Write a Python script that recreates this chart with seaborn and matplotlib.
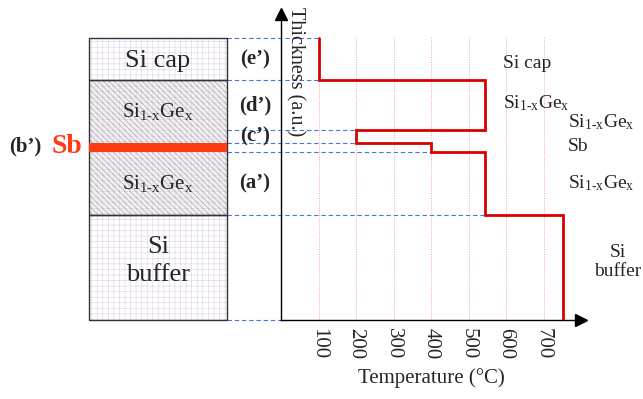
import matplotlib
matplotlib.use("Agg")
import matplotlib.pyplot as plt
import seaborn as sns
import pandas as pd
from matplotlib.patches import Rectangle

# ---------------- data ----------------
layer_labels = ["(e\u2019)", "(d\u2019)", "(c\u2019)", "(b\u2019)", "(a\u2019)", ""]
layer_bounds = [282, 240, 190, 177, 168, 105, 0]      # thickness (a.u.), top -> bottom
growth_temps = [100, 545, 200, 400, 545, 752]          # growth temperature (°C) per layer
temp_ticks = [100, 200, 300, 400, 500, 600, 700]
sige = "Si$_{\\mathrm{1\\text{-}x}}$Ge$_{\\mathrm{x}}$"
right_labels = ["Si cap", sige, sige, "Sb", sige]

# ---------------- style ----------------
sns.set_theme(style="white")
plt.rcParams["font.family"] = ["Liberation Serif", "DejaVu Serif"]
plt.rcParams["mathtext.fontset"] = "custom"
plt.rcParams["mathtext.rm"] = "Liberation Serif"
plt.rcParams["mathtext.it"] = "Liberation Serif:italic"
plt.rcParams["hatch.linewidth"] = 0.45

W, H = 643, 399
fig = plt.figure(figsize=(W / 100, H / 100), dpi=100)
ax = fig.add_axes([281 / W, (H - 320) / H, 300 / W, 306 / H])
ax.set_xlim(0, 800)
ax.set_ylim(0, 306)

# step profile
xs, ys = [], []
for i, t in enumerate(growth_temps):
    xs += [t, t]
    ys += [layer_bounds[i], layer_bounds[i + 1]]
df = pd.DataFrame({"T": xs, "h": ys})

# dotted vertical guides
ax.vlines(temp_ticks, 0, 283, colors="#f5a595", linestyles=(0, (1, 1.5)), lw=0.7, zorder=1)

sns.lineplot(data=df, x="T", y="h", sort=False, estimator=None, color="#d80000",
             lw=2.0, ax=ax, zorder=4, solid_joinstyle="miter")

# blue dashed boundary lines
stack_l, stack_r = -512, -144
for i, b in enumerate(layer_bounds):
    adj = []
    if i > 0:
        adj.append(growth_temps[i - 1])
    if i < len(growth_temps):
        adj.append(growth_temps[i])
    end = 0 if i == len(layer_bounds) - 1 else min(adj)
    ax.plot([stack_r, end], [b, b], color="#4a74d8", lw=0.8, ls=(0, (4, 2.5)),
            clip_on=False, zorder=2)

# axes look
for s in ["top", "right"]:
    ax.spines[s].set_visible(False)
for s in ["left", "bottom"]:
    ax.spines[s].set_color("black")
    ax.spines[s].set_linewidth(1.0)
ax.plot([1], [0], marker=">", color="black", ms=8, transform=ax.transAxes, clip_on=False)
ax.plot([0], [1], marker="^", color="black", ms=8, transform=ax.transAxes, clip_on=False)
ax.set_xticks(temp_ticks)
ax.set_xticklabels([str(t) for t in temp_ticks], rotation=-90, fontsize=15)
ax.tick_params(axis="x", length=0, pad=6)
ax.set_yticks([])
ax.set_xlabel("Temperature (°C)", fontsize=15, labelpad=6)
ax.set_ylabel("")
ax.text(37, 313, "Thickness (a.u.)", rotation=-90, ha="center", va="top", fontsize=14.5)

# ---------------- left layer stack ----------------
grid_col = "#e2d3ea"
def grid_rect(y0, y1, face):
    ax.add_patch(Rectangle((stack_l, y1), stack_r - stack_l, y0 - y1, facecolor=face,
                           edgecolor=grid_col, lw=0, hatch="+++", clip_on=False, zorder=1))

# Si cap
grid_rect(layer_bounds[0], layer_bounds[1], "white")
# SiGe
grid_rect(layer_bounds[1], layer_bounds[5], "#f4f2f4")
ax.add_patch(Rectangle((stack_l, layer_bounds[5]), stack_r - stack_l, layer_bounds[1] - layer_bounds[5],
                       facecolor="none", edgecolor="#a4a4a4", lw=0, hatch="\\\\\\\\\\\\",
                       clip_on=False, zorder=1))
# Si buffer
grid_rect(layer_bounds[5], layer_bounds[6], "white")
# outlines
for y0, y1 in [(layer_bounds[0], layer_bounds[1]), (layer_bounds[1], layer_bounds[5]),
               (layer_bounds[5], layer_bounds[6])]:
    ax.add_patch(Rectangle((stack_l, y1), stack_r - stack_l, y0 - y1, facecolor="none",
                           edgecolor="#333333", lw=1.0, clip_on=False, zorder=3))
# Sb band
ax.add_patch(Rectangle((stack_l, layer_bounds[4]), stack_r - stack_l, layer_bounds[3] - layer_bounds[4],
                       facecolor="#ff3b14", edgecolor="none", clip_on=False, zorder=3))

cx = (stack_l + stack_r) / 2
ax.text(cx, 259, "Si cap", ha="center", va="center", fontsize=19)
ax.text(cx, 209, right_labels[1], ha="center", va="center", fontsize=15)
ax.text(cx, 137, right_labels[1], ha="center", va="center", fontsize=15)
ax.text(cx, 59, "Si\nbuffer", ha="center", va="center", fontsize=19, linespacing=1.3)

# layer letters
for i, lab in enumerate(layer_labels):
    if lab and i != 3:
        yc = (layer_bounds[i] + layer_bounds[i + 1]) / 2
        ax.text(-69, yc, lab, ha="center", va="center", fontsize=15, fontweight="bold")
ax.text(-683, 174, layer_labels[3], ha="center", va="center", fontsize=15, fontweight="bold")
ax.text(-571, 174, "Sb", ha="center", va="center", fontsize=20, fontweight="bold", color="#ff3b14")

# right-side labels
ax.text(592, 257, right_labels[0], ha="left", va="center", fontsize=14, clip_on=False)
ax.text(592, 217, right_labels[1], ha="left", va="center", fontsize=14, clip_on=False)
ax.text(765, 198, right_labels[2], ha="left", va="center", fontsize=14, clip_on=False)
ax.text(765, 174, right_labels[3], ha="left", va="center", fontsize=14, clip_on=False)
ax.text(765, 137, right_labels[4], ha="left", va="center", fontsize=14, clip_on=False)
ax.text(899, 58, "Si\nbuffer", ha="center", va="center", fontsize=14, clip_on=False, linespacing=1.2)

fig.savefig("out.png", dpi=100)
